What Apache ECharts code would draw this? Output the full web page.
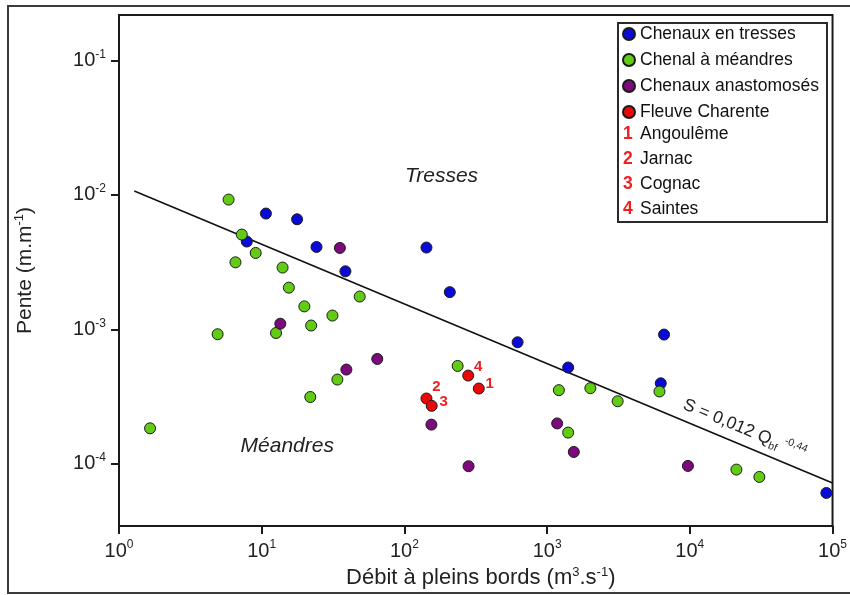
<!DOCTYPE html>
<html><head><meta charset="utf-8">
<script src="https://cdn.jsdelivr.net/npm/echarts@6/dist/echarts.min.js"></script>
<style>html,body{margin:0;padding:0;background:#fff}#c{width:850px;height:595px}</style>
</head><body><div id="c"></div>
<script>
// ---- data ----
const seriesNames = ['Chenaux en tresses', 'Chenal à méandres', 'Chenaux anastomosés', 'Fleuve Charente'];
const braidedQ = [7.86, 10.7, 17.7, 24.2, 38.6, 142.7, 208, 621, 1404, 6255, 6597, 90500];
const braidedS = [4.50e-3, 7.27e-3, 6.59e-3, 4.10e-3, 2.70e-3, 4.06e-3, 1.89e-3, 8.0e-4, 5.19e-4, 3.96e-4, 9.13e-4, 6.04e-5];
const meanderQ = [1.65, 4.91, 5.86, 6.55, 7.25, 9.08, 12.6, 14.0, 15.5, 19.9, 22.2, 21.9, 31.3, 33.9, 48.6, 236, 1209, 1404, 2009, 3120, 6125, 21200, 30700];
const meanderS = [1.83e-4, 9.18e-4, 9.24e-3, 3.15e-3, 5.07e-3, 3.70e-3, 9.38e-4, 2.88e-3, 2.04e-3, 1.48e-3, 1.066e-3, 3.13e-4, 1.265e-3, 4.22e-4, 1.752e-3, 5.33e-4, 3.52e-4, 1.70e-4, 3.64e-4, 2.91e-4, 3.44e-4, 9.02e-5, 7.95e-5];
const anastoQ = [13.5, 35.3, 39.2, 64.5, 154.6, 281.5, 1176, 1538, 9700];
const anastoS = [1.10e-3, 4.03e-3, 5.01e-4, 6.01e-4, 1.95e-4, 9.55e-5, 1.99e-4, 1.22e-4, 9.6e-5];
const charenteIds = ['1', '2', '3', '4'];
const charenteQ = [332, 142.7, 155.3, 280];
const charenteS = [3.62e-4, 3.05e-4, 2.69e-4, 4.52e-4];
const charenteStations = ['Angoulême', 'Jarnac', 'Cognac', 'Saintes'];
const fitQ = [1.28, 100000];
const fitS = [0.0107, 0.0000717];
const xTickExps = [0, 1, 2, 3, 4, 5];
const yTickExps = [-4, -3, -2, -1];
const xLabel = 'Débit à pleins bords';
const yLabel = 'Pente';
const equationText = ['S = 0,012 Q', 'bf', '-0,44'];
const regionLabels = ['Tresses', 'Méandres'];
const regionPos = [[182, 1.377e-2], [15.1, 1.345e-4]];
const equationPos = [8490, 2.33e-4];

// ---- styling ----
const FONT = '"Liberation Sans", Arial, sans-serif';
const colors = ['#0a0ad6', '#62cc14', '#7c0a7c', '#e80a0a'];
const labelOffsets = {'1': [11, -5], '2': [10, -12], '3': [12, -4], '4': [10, -9]};
const supRich = {
  b: {fontSize: 20, fontFamily: FONT, color: '#222', lineHeight: 24},
  s: {fontSize: 12, fontFamily: FONT, color: '#222', verticalAlign: 'top', lineHeight: 13}
};
const nameRich = {s: {fontSize: 13, fontFamily: FONT, color: '#222', verticalAlign: 'top', lineHeight: 13}};
const expFmt = v => '{b|10}{s|' + Math.round(Math.log10(v)) + '}';

function pts(q, s) { return q.map((x, i) => [x, s[i]]); }

const chart = echarts.init(document.getElementById('c'), null, {renderer: 'canvas'});
const scatterBase = (name, i, data) => ({
  name, type: 'scatter', data, symbol: 'circle', symbolSize: 11, z: 3,
  itemStyle: {color: colors[i], borderColor: '#1a1a1a', borderWidth: 1, opacity: 1}
});

const option = {
  animation: false,
  backgroundColor: '#fff',
  textStyle: {fontFamily: FONT},
  grid: {left: 119, right: 15, top: 15, bottom: 69, show: true, borderColor: '#1a1a1a', borderWidth: 2, backgroundColor: 'transparent'},
  legend: {
    data: seriesNames, orient: 'vertical', left: 622, top: 25, padding: 0,
    itemWidth: 12, itemHeight: 12, itemGap: 8, icon: 'circle',
    textStyle: {fontSize: 17.5, fontFamily: FONT, color: '#111', lineHeight: 17}
  },
  xAxis: {
    type: 'log', logBase: 10, min: Math.pow(10, xTickExps[0]), max: Math.pow(10, xTickExps[xTickExps.length - 1]),
    splitLine: {show: false}, minorTick: {show: false},
    axisLine: {lineStyle: {color: '#1a1a1a', width: 2}},
    axisTick: {show: true, inside: false, length: 8, lineStyle: {color: '#1a1a1a', width: 2}},
    axisLabel: {margin: 13, formatter: expFmt, rich: supRich, showMinLabel: true, showMaxLabel: true, hideOverlap: false},
    name: xLabel + ' (m{s|3}.s{s|-1})', nameLocation: 'middle', nameGap: 40,
    nameTextStyle: {fontSize: 22, fontFamily: FONT, color: '#222', lineHeight: 24, rich: nameRich, padding: [0, 0, 0, 10]}
  },
  yAxis: {
    type: 'log', logBase: 10, min: Math.pow(10, -4.465), max: Math.pow(10, -0.66),
    splitLine: {show: false}, minorTick: {show: false},
    axisLine: {lineStyle: {color: '#1a1a1a', width: 2}},
    axisTick: {show: true, inside: false, length: 8, lineStyle: {color: '#1a1a1a', width: 2},
      customValues: yTickExps.map(e => Math.pow(10, e))},
    axisLabel: {margin: 13, formatter: expFmt, rich: supRich,
      customValues: yTickExps.map(e => Math.pow(10, e))},
    name: yLabel + ' (m.m{s|-1})', nameLocation: 'middle', nameRotate: 90, nameGap: 82,
    nameTextStyle: {fontSize: 21, fontFamily: FONT, color: '#222', lineHeight: 24, rich: nameRich}
  },
  series: [
    {type: 'line', data: pts(fitQ, fitS), symbol: 'none', z: 2, silent: true,
     lineStyle: {color: '#111', width: 1.6}},
    scatterBase(seriesNames[0], 0, pts(braidedQ, braidedS)),
    scatterBase(seriesNames[1], 1, pts(meanderQ, meanderS)),
    scatterBase(seriesNames[2], 2, pts(anastoQ, anastoS)),
    Object.assign(scatterBase(seriesNames[3], 3, charenteQ.map((q, i) => ({
      name: charenteIds[i], value: [q, charenteS[i]],
      label: {offset: labelOffsets[charenteIds[i]]}
    }))), {
      z: 4,
      label: {show: true, position: 'inside', formatter: p => p.name,
        fontSize: 15, fontWeight: 'bold', fontFamily: FONT, color: '#ee2020'}
    })
  ]
};
chart.setOption(option);

// ---- annotations (placed via the chart's own scales) ----
const px = (q, s) => chart.convertToPixel({gridIndex: 0}, [q, s]);
const a = px(fitQ[0], fitS[0]), b = px(fitQ[1], fitS[1]);
const ang = Math.atan2(b[1] - a[1], b[0] - a[0]);
const eq = px(equationPos[0], equationPos[1]);
const tP = px(regionPos[0][0], regionPos[0][1]);
const mP = px(regionPos[1][0], regionPos[1][1]);

const graphics = [
  {type: 'rect', z: -10, shape: {x: 8, y: 6, width: 870, height: 587},
   style: {fill: 'none', stroke: '#3a3a3a', lineWidth: 2}},
  {type: 'rect', z: 50, shape: {x: 618, y: 23, width: 209, height: 199},
   style: {fill: 'none', stroke: '#2a2a2a', lineWidth: 2}},
  {type: 'text', z: 50, x: tP[0], y: tP[1],
   style: {text: regionLabels[0], font: 'italic 21px ' + FONT, fill: '#222', align: 'center', verticalAlign: 'middle'}},
  {type: 'text', z: 50, x: mP[0], y: mP[1],
   style: {text: regionLabels[1], font: 'italic 21px ' + FONT, fill: '#222', align: 'center', verticalAlign: 'middle'}},
  {type: 'text', z: 50, x: eq[0], y: eq[1], rotation: -ang,
   style: {text: equationText[0] + '{sub|' + equationText[1] + '} {sup|' + equationText[2] + '}',
     fontSize: 17.5, fontFamily: FONT, fill: '#222', align: 'left', verticalAlign: 'bottom', lineHeight: 22,
     rich: {
       sub: {fontSize: 10.5, fontFamily: FONT, fill: '#222', verticalAlign: 'bottom', lineHeight: 10},
       sup: {fontSize: 10.5, fontFamily: FONT, fill: '#222', verticalAlign: 'top', lineHeight: 12}
     }}}
];
charenteIds.forEach((id, i) => {
  const y = 134 + i * 25;
  graphics.push({type: 'text', z: 50, x: 623, y: y,
    style: {text: id, font: 'bold 17.5px ' + FONT, fill: '#ee2020', align: 'left', verticalAlign: 'middle'}});
  graphics.push({type: 'text', z: 50, x: 640, y: y,
    style: {text: charenteStations[i], font: '17.5px ' + FONT, fill: '#111', align: 'left', verticalAlign: 'middle'}});
});
chart.setOption({graphic: graphics});
</script>
</body></html>
